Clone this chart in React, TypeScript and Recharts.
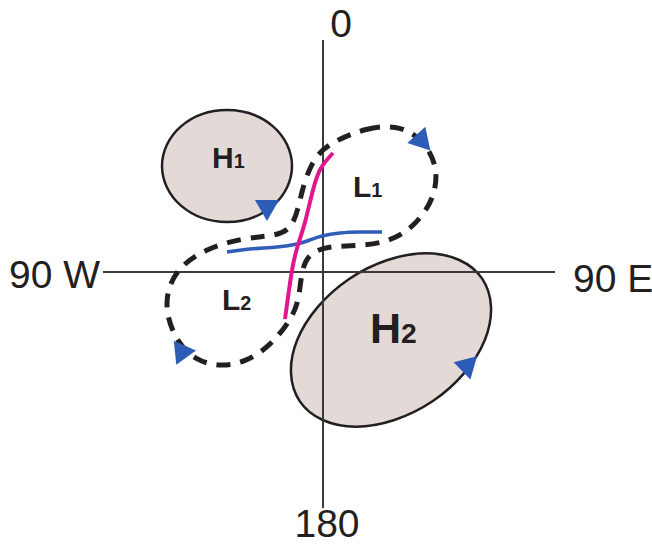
import React from 'react';
import { ScatterChart, Scatter, XAxis, YAxis } from 'recharts';

// coordinates: origin where the two axes cross, y up
const H1_OUTLINE = [
  { x: -24, y: 106 }, { x: -45, y: 150 }, { x: -96, y: 168 }, { x: -147, y: 150 },
  { x: -168, y: 106 }, { x: -147, y: 62 }, { x: -96, y: 44 }, { x: -45, y: 62 },
];

const H2_OUTLINE = [
  { x: 169, y: 0 }, { x: 107, y: 28 }, { x: 22, y: 0 }, { x: -36, y: -68 },
  { x: -33, y: -136 }, { x: 29, y: -164 }, { x: 114, y: -136 }, { x: 172, y: -68 },
];

const EW_AXIS = [{ x: -220, y: 0 }, { x: 232, y: 0 }];
const NS_AXIS = [{ x: 0, y: 232 }, { x: 0, y: -236 }];

// the dashed two-lobed low (L1 + L2)
const LOW_TRACK = [
  { x: 14, y: 132 }, { x: 43, y: 144 }, { x: 73, y: 147 }, { x: 98, y: 135 },
  { x: 115, y: 107 }, { x: 112, y: 74 }, { x: 92, y: 46 }, { x: 67, y: 30 },
  { x: 35, y: 26 }, { x: 5, y: 26 }, { x: -16, y: 18 }, { x: -22, y: -3 },
  { x: -24, y: -28 }, { x: -32, y: -48 }, { x: -53, y: -74 }, { x: -77, y: -90 },
  { x: -103, y: -95 }, { x: -128, y: -88 }, { x: -145, y: -71 }, { x: -156, y: -46 },
  { x: -157, y: -20 }, { x: -144, y: 6 }, { x: -115, y: 24 }, { x: -80, y: 34 },
  { x: -48, y: 36 }, { x: -32, y: 43 }, { x: -25, y: 62 }, { x: -20, y: 86 },
  { x: -11, y: 110 }, { x: 0, y: 123 },
];

const MAGENTA_LINE = [
  { x: 10, y: 119 }, { x: -2, y: 104 }, { x: -10, y: 82 }, { x: -18, y: 50 },
  { x: -25, y: 27 }, { x: -30, y: 7 }, { x: -34, y: -18 }, { x: -38, y: -47 },
];

const BLUE_LINE = [
  { x: -96, y: 20 }, { x: -73, y: 23 }, { x: -46, y: 25 }, { x: -26, y: 28 },
  { x: -13, y: 32 }, { x: -1, y: 36 }, { x: 17, y: 39 }, { x: 37, y: 40 }, { x: 59, y: 40 },
];

// flow arrows, heading in degrees clockwise from north
const ARROWS = [
  { x: -56, y: 65, heading: 180 },
  { x: 98, y: 132, heading: 18 },
  { x: -141, y: -80, heading: 84 },
  { x: 144, y: -94, heading: 46 },
];

const CENTER_LABELS = [
  { x: -111, y: 104, name: 'H', sub: '1' },
  { x: 30, y: 75, name: 'L', sub: '1' },
  { x: -101, y: -38, name: 'L', sub: '2' },
  { x: 47, y: -71, name: 'H', sub: '2' },
];

const AXIS_LABELS = [
  { x: 18, y: 235, text: '0', anchor: 'middle' },
  { x: 4, y: -265, text: '180', anchor: 'middle' },
  { x: -223, y: -16, text: '90 W', anchor: 'end' },
  { x: 250, y: -20, text: '90 E', anchor: 'start' },
];

const INK = '#231f20';
const HIGH_FILL = '#e3dad8';
const ARROW_BLUE = '#2d5cb6';

const noDot = () => <g />;

const Arrow = (props: any) => {
  const { cx, cy, payload } = props;
  return (
    <polygon
      points="0,-14 12.1,7 -12.1,7"
      fill={ARROW_BLUE}
      transform={`translate(${cx},${cy}) rotate(${payload.heading})`}
    />
  );
};

const CenterLabel = (props: any) => {
  const { cx, cy, payload } = props;
  const big = payload.name === 'H' && payload.sub === '2';
  const size = big ? 43 : 30;
  return (
    <text
      x={cx}
      y={cy}
      fill={INK}
      fontFamily="'Liberation Sans', Arial, sans-serif"
      fontWeight={700}
    >
      <tspan fontSize={size}>{payload.name}</tspan>
      <tspan fontSize={size * 0.66}>{payload.sub}</tspan>
    </text>
  );
};

const AxisLabel = (props: any) => {
  const { cx, cy, payload } = props;
  return (
    <text
      x={cx}
      y={cy}
      textAnchor={payload.anchor}
      fill={INK}
      fontSize={39}
      fontFamily="'Liberation Sans', Arial, sans-serif"
    >
      {payload.text}
    </text>
  );
};

export default function App() {
  return (
    <div style={{ position: 'absolute', left: 0, top: 0, background: '#fff' }}>
      <ScatterChart width={652} height={546} margin={{ top: 0, right: 0, bottom: 0, left: 0 }}>
        <XAxis type="number" dataKey="x" domain={[-323, 329]} allowDataOverflow hide />
        <YAxis type="number" dataKey="y" domain={[-274, 272]} allowDataOverflow hide />

        <Scatter
          data={H1_OUTLINE}
          line={{ fill: HIGH_FILL, stroke: INK, strokeWidth: 2.5 }}
          lineJointType="basisClosed"
          shape={noDot}
          isAnimationActive={false}
        />
        <Scatter
          data={H2_OUTLINE}
          line={{ fill: HIGH_FILL, stroke: INK, strokeWidth: 2.5 }}
          lineJointType="basisClosed"
          shape={noDot}
          isAnimationActive={false}
        />

        <Scatter data={EW_AXIS} line={{ stroke: '#3a3a3a', strokeWidth: 2 }} shape={noDot} isAnimationActive={false} />
        <Scatter data={NS_AXIS} line={{ stroke: '#3a3a3a', strokeWidth: 2 }} shape={noDot} isAnimationActive={false} />

        <Scatter
          data={LOW_TRACK}
          line={{ fill: 'none', stroke: INK, strokeWidth: 5, strokeDasharray: '14 10' }}
          lineJointType="basisClosed"
          shape={noDot}
          isAnimationActive={false}
        />

        <Scatter
          data={BLUE_LINE}
          line={{ fill: 'none', stroke: '#2f5db8', strokeWidth: 3.5 }}
          lineJointType="natural"
          shape={noDot}
          isAnimationActive={false}
        />
        <Scatter
          data={MAGENTA_LINE}
          line={{ fill: 'none', stroke: '#e2178f', strokeWidth: 4 }}
          lineJointType="natural"
          shape={noDot}
          isAnimationActive={false}
        />

        <Scatter data={ARROWS} shape={Arrow} isAnimationActive={false} />
        <Scatter data={CENTER_LABELS} shape={CenterLabel} isAnimationActive={false} />
        <Scatter data={AXIS_LABELS} shape={AxisLabel} isAnimationActive={false} />
      </ScatterChart>
    </div>
  );
}
